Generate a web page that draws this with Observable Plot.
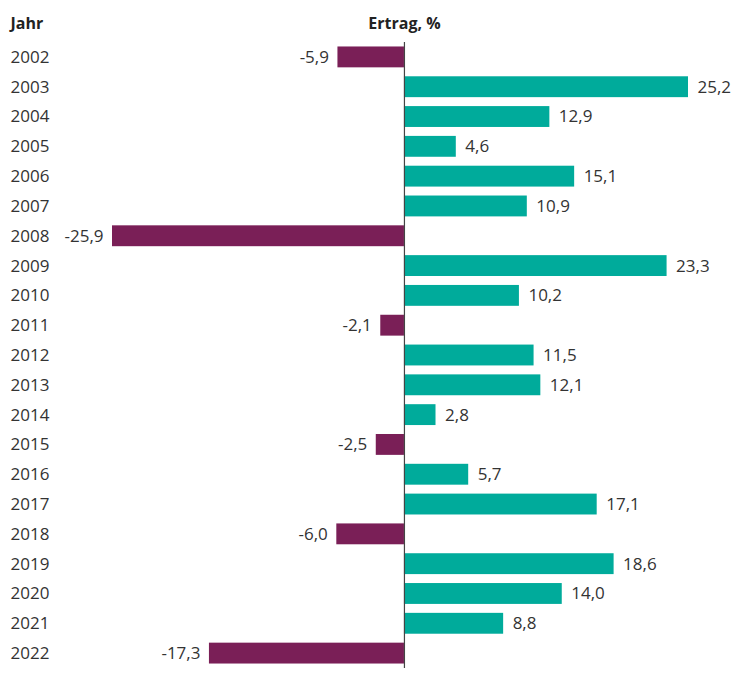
<!DOCTYPE html>
<html><head><meta charset="utf-8">
<script src="https://cdn.jsdelivr.net/npm/d3@7"></script>
<script src="https://cdn.jsdelivr.net/npm/@observablehq/plot@0.6"></script>
<style>body{margin:0;background:#fff;} svg{display:block;}</style>
</head><body><div id="chart"></div>
<script>
const years = ["2002","2003","2004","2005","2006","2007","2008","2009","2010","2011","2012","2013","2014","2015","2016","2017","2018","2019","2020","2021","2022"];
const returns = [-5.9,25.2,12.9,4.6,15.1,10.9,-25.9,23.3,10.2,-2.1,11.5,12.1,2.8,-2.5,5.7,17.1,-6.0,18.6,14.0,8.8,-17.3];
const headerLeft = "Jahr";
const headerValue = "Ertrag, %";
const posColor = "#00ab9b";
const negColor = "#7a1f57";

const data = years.map((y,i)=>({year:y, value:returns[i]}));
const fmt = v => v.toFixed(1).replace(".", ",");
const font = "'Open Sans', sans-serif";

const chart = Plot.plot({
  width: 752, height: 675,
  marginLeft: 112, marginRight: 64, marginTop: 42, marginBottom: 7,
  style: {fontFamily: font, fontSize: "17px", color: "#333", background: "#fff"},
  x: {domain: [-25.9, 25.2], axis: null},
  y: {domain: years, axis: null, paddingInner: 0.3, paddingOuter: 0.15, round: false},
  marks: [
    Plot.barX(data, {y: "year", x: "value", fill: d => d.value < 0 ? negColor : posColor}),
    Plot.ruleX([0], {stroke: "#444", strokeWidth: 1.2}),
    Plot.text(data, {y: "year", text: "year", frameAnchor: "left", textAnchor: "start", dx: -102, fill: "#333", fontSize: 17}),
    Plot.text(data.filter(d=>d.value>=0), {y: "year", x: "value", text: d=>fmt(d.value), textAnchor: "start", dx: 9, fill: "#333", fontSize: 17}),
    Plot.text(data.filter(d=>d.value<0), {y: "year", x: "value", text: d=>fmt(d.value), textAnchor: "end", dx: -9, fill: "#333", fontSize: 17}),
    Plot.text([headerLeft], {text: d=>d, frameAnchor: "top-left", textAnchor: "start", dx: -102, dy: -25, fontWeight: "bold", fill: "#222", fontSize: 16}),
    Plot.text([0], {x: d=>d, text: ()=>headerValue, frameAnchor: "top", textAnchor: "middle", dy: -25, fontWeight: "bold", fill: "#222", fontSize: 16})
  ]
});
document.getElementById("chart").append(chart);
</script></body></html>
